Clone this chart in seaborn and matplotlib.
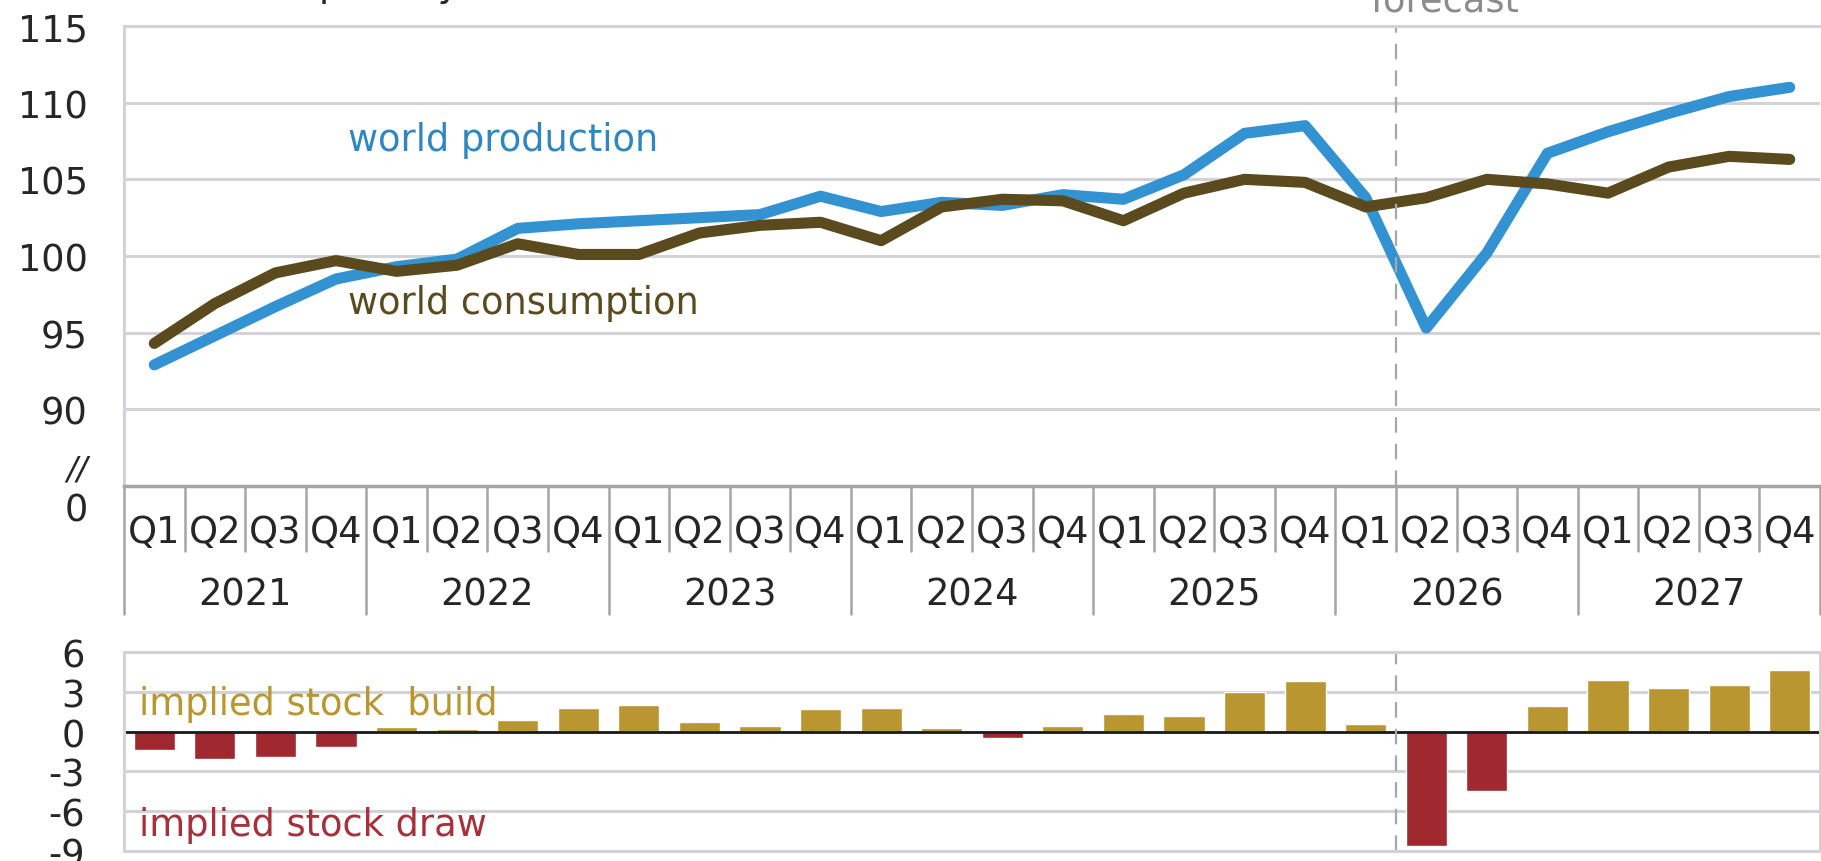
import matplotlib
matplotlib.use("Agg")
import matplotlib.pyplot as plt
import matplotlib.transforms as mtransforms
import numpy as np
import pandas as pd
import seaborn as sns

# Data (million barrels per day)
years = ["2021", "2022", "2023", "2024", "2025", "2026", "2027"]
quarter_names = ["Q1", "Q2", "Q3", "Q4"]
quarters = [y + q for y in years for q in quarter_names]

production = [92.9, 94.8, 96.7, 98.5, 99.3, 99.8, 101.8, 102.1, 102.3, 102.5,
              102.7, 103.9, 102.9, 103.5, 103.3, 104.0, 103.7, 105.3, 108.0, 108.5,
              103.8, 95.3, 100.2, 106.7, 108.1, 109.3, 110.4, 111.0]
consumption = [94.3, 96.9, 98.9, 99.7, 99.0, 99.4, 100.8, 100.1, 100.1, 101.5,
               102.0, 102.2, 101.0, 103.2, 103.7, 103.6, 102.3, 104.1, 105.0, 104.8,
               103.2, 103.8, 105.0, 104.7, 104.1, 105.8, 106.5, 106.3]
stock_change = [-1.4, -2.1, -1.95, -1.15, 0.35, 0.2, 0.9, 1.75, 2.0, 0.75,
                0.4, 1.7, 1.8, 0.3, -0.5, 0.4, 1.3, 1.2, 3.0, 3.8,
                0.6, -8.6, -4.5, 1.95, 3.9, 3.3, 3.5, 4.65]
forecast_start = 21  # 2026 Q2

top_ticks = [90, 95, 100, 105, 110, 115]
bottom_ticks = [-9, -6, -3, 0, 3, 6]

blue = "#3292d2"
brown = "#5a4a1e"
gold = "#b9962f"
red = "#a0282f"
grid_gray = "#d3d3d7"
axis_gray = "#a5a5a8"
text_color = "#262626"

sns.set_theme(style="white")
plt.rcParams["font.family"] = ["DejaVu Sans"]
FS = 26.5

W, H = 1821, 862
fig = plt.figure(figsize=(W / 100, H / 100), dpi=100)


def fx(px):
    return px / W


def fy(py):
    return 1 - py / H


left_px, right_px = 124, 1820
ax_top = fig.add_axes([fx(left_px), fy(487), (right_px - left_px) / W, (487 - 27) / H])
ax_bot = fig.add_axes([fx(left_px), fy(852), (right_px - left_px) / W, (852 - 653) / H])

# Top panel: production vs consumption
df = pd.DataFrame({"pos": np.arange(len(quarters)), "production": production,
                   "consumption": consumption})
sns.lineplot(data=df, x="pos", y="production", ax=ax_top, color=blue, lw=8,
             solid_capstyle="round", solid_joinstyle="round")
sns.lineplot(data=df, x="pos", y="consumption", ax=ax_top, color=brown, lw=8,
             solid_capstyle="round", solid_joinstyle="round")

ax_top.set_xlim(-0.5, len(quarters) - 0.5)
ax_top.set_ylim(85, 115)
ax_top.set_yticks(top_ticks)
ax_top.set_yticklabels([str(t) for t in top_ticks])
ax_top.set_xticks([])
ax_top.set_xlabel("")
ax_top.set_ylabel("")
ax_top.yaxis.grid(True, color=grid_gray, lw=2.2)
ax_top.set_axisbelow(True)
ax_top.tick_params(axis="y", length=0, pad=26, labelsize=FS, labelcolor=text_color)
for side in ["left", "top"]:
    ax_top.spines[side].set_color(grid_gray)
    ax_top.spines[side].set_linewidth(2.2)
ax_top.spines["right"].set_visible(False)
ax_top.spines["bottom"].set_color(axis_gray)
ax_top.spines["bottom"].set_linewidth(2.5)
ax_top.axvline(forecast_start - 0.5, color="#a8a8a8", lw=1.6, dashes=(7, 5))

ax_top.text(3.2, 107.6, "world production", color="#2e87c3", fontsize=FS,
            ha="left", va="center")
ax_top.text(3.2, 97.0, "world consumption", color=brown, fontsize=FS,
            ha="left", va="center")

# broken axis marks
fig.text(fx(88), fy(511), "0", fontsize=FS, color=text_color, ha="right", va="center")
fig.text(fx(88), fy(470), "//", fontsize=23, color=text_color, ha="right",
         va="center", style="italic")

# category axis (quarters + years) under the top panel
trans = mtransforms.blended_transform_factory(ax_top.transData, fig.transFigure)
for k in range(len(quarters) + 1):
    bottom = 615 if k % 4 == 0 else 552
    ax_top.plot([k - 0.5, k - 0.5], [fy(487), fy(bottom)], transform=trans,
                color=axis_gray, lw=1.8, clip_on=False)
for i, q in enumerate(quarters):
    ax_top.text(i, fy(533), q[4:], transform=trans, fontsize=FS, color=text_color,
                ha="center", va="center")
for j, y in enumerate(years):
    ax_top.text(j * 4 + 1.5, fy(595), y, transform=trans, fontsize=FS,
                color=text_color, ha="center", va="center")

# Bottom panel: implied stock change
bar_df = pd.DataFrame({"quarter": quarters, "stock": stock_change,
                       "sign": ["build" if v >= 0 else "draw" for v in stock_change]})
sns.barplot(data=bar_df, x="quarter", y="stock", hue="sign", order=quarters,
            palette={"build": gold, "draw": red}, dodge=False, width=0.68,
            saturation=1, legend=False, ax=ax_bot)

ax_bot.set_xlim(-0.5, len(quarters) - 0.5)
ax_bot.set_ylim(-9, 6)
ax_bot.set_yticks(bottom_ticks)
ax_bot.set_yticklabels([str(t) for t in bottom_ticks])  # plain hyphen minus
ax_bot.set_xticks([])
ax_bot.set_xlabel("")
ax_bot.set_ylabel("")
ax_bot.yaxis.grid(True, color=grid_gray, lw=2.2)
ax_bot.set_axisbelow(True)
ax_bot.tick_params(axis="y", length=0, pad=28, labelsize=FS, labelcolor=text_color)
for side in ["left", "top", "bottom", "right"]:
    ax_bot.spines[side].set_color(grid_gray)
    ax_bot.spines[side].set_linewidth(2.2)
ax_bot.axhline(0, color="#1a1a1a", lw=2)
ax_bot.axvline(forecast_start - 0.5, color="#a8a8a8", lw=1.6, dashes=(7, 5))

ax_bot.text(-0.25, 2.1, "implied stock  build", color=gold, fontsize=FS,
            ha="left", va="center")
ax_bot.text(-0.25, -7.0, "implied stock draw", color="#a8303a", fontsize=FS,
            ha="left", va="center")

# titles cut off at the top edge, as in the source
fig.text(fx(1445), fy(12), "forecast", fontsize=FS, color="#8c8c8c",
         ha="center", va="baseline")
fig.text(fx(46), 1 + 4 / H, "million barrels per day", fontsize=FS,
         color=text_color, ha="left", va="baseline")

fig.savefig("out.png", dpi=100)
